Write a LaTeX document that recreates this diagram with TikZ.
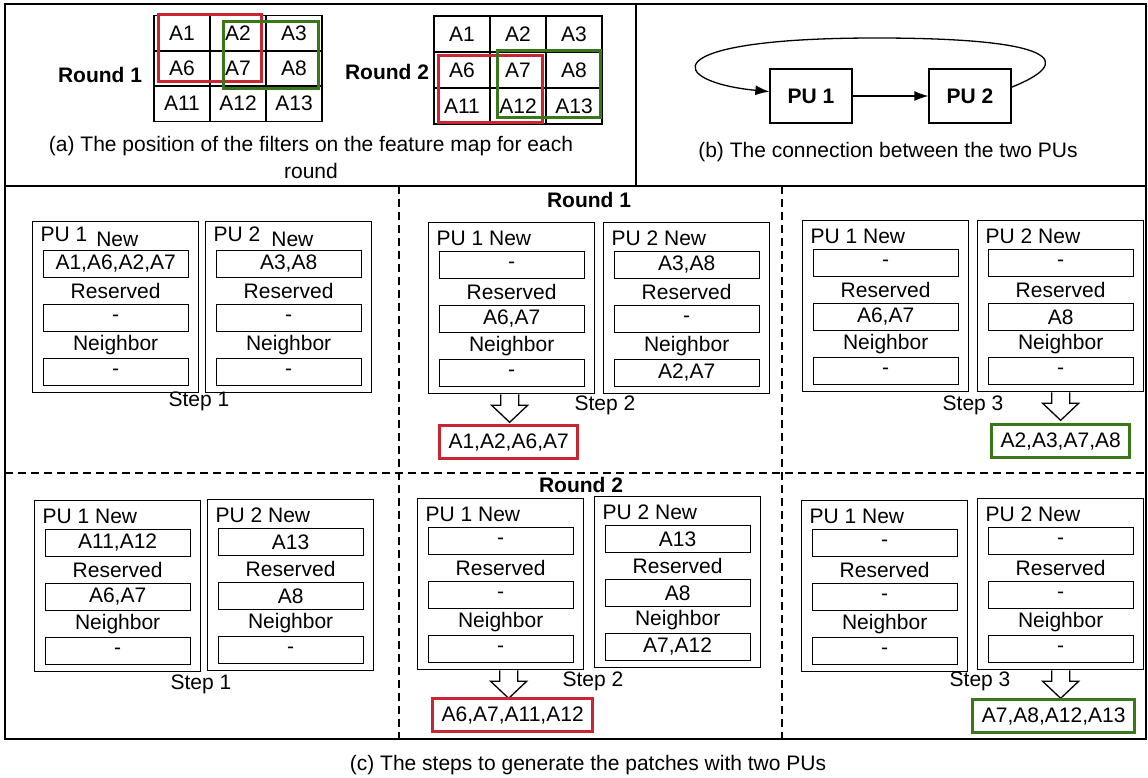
\documentclass[tikz,border=0pt]{standalone}
\usepackage{fontspec}
\setmainfont{Liberation Sans}
\usetikzlibrary{arrows.meta,positioning}

\definecolor{filtred}{RGB}{200,38,48}
\definecolor{filtgreen}{RGB}{58,118,26}

\tikzset{blockarrow/.pic={\draw[fill=white, line join=miter] (-9,0) -- (-9,11) -- (-18,11) -- (0,28) -- (18,11) -- (9,11) -- (9,0);}}

% one processing unit with its three buffers
\newcommand{\pubox}[6]{%
  \node[pu] (#1) at (#2) {};
  \node[tag] at ([xshift=8pt,yshift=-16pt]#1.north west) {#3};
  \node[slot] (#1n) at ([yshift=-43pt]#1.north) {#4};
  \node at ([yshift=-70pt]#1.north) {Reserved};
  \node[slot] (#1r) at ([yshift=-97pt]#1.north) {#5};
  \node at ([yshift=-124pt]#1.north) {Neighbor};
  \node[slot] (#1b) at ([yshift=-151pt]#1.north) {#6};
}

\begin{document}
\begin{tikzpicture}[x=1pt, y=-1pt, >={Latex[length=14pt,width=10pt]}, line width=1.3pt, every node/.style={font=\fontsize{21}{27}\selectfont}]
\tikzstyle{cell}=[draw, minimum width=56pt, minimum height=35.5pt, inner sep=0pt]
\tikzstyle{pu}=[draw, anchor=north west, minimum width=166pt, minimum height=171pt, inner sep=0pt]
\tikzstyle{slot}=[draw, minimum width=145pt, minimum height=27pt, inner sep=0pt]
\tikzstyle{tag}=[anchor=west, inner sep=0pt]
\tikzstyle{result}=[draw, line width=3pt, minimum height=33pt, inner xsep=9pt, inner ysep=0pt]
\tikzstyle{unit}=[draw, minimum width=82pt, minimum height=54pt, font=\fontsize{21}{27}\selectfont\bfseries]
\tikzstyle{sep}=[dash pattern=on 8pt off 5pt]
\useasboundingbox (0,0) rectangle (1148,778);

% frames
\draw[line width=1.5pt] (5,4) rectangle (1146,739);
\draw[line width=1.5pt] (5,186) -- (1146,186);
\draw[line width=1.5pt] (636,4) -- (636,186);
\draw[sep] (399,186) -- (399,739);
\draw[sep] (782,186) -- (782,739);
\draw[sep] (5,473) -- (1146,473);

% (a) filters on the feature map
\foreach \lab [count=\k from 0] in {A1,A2,A3,A6,A7,A8,A11,A12,A13}{
  \pgfmathtruncatemacro\c{mod(\k,3)}
  \pgfmathtruncatemacro\r{div(\k,3)}
  \node[cell] (fa\lab) at (154+56*\c+28, 16+35*\r+17.5) {\lab};
  \node[cell, minimum height=36pt] (fb\lab) at (434+56*\c+28, 16+36*\r+18) {\lab};
}
\node[font=\fontsize{21}{27}\selectfont\bfseries, anchor=east] (rnda) at (146,75) {Round 1};
\node[font=\fontsize{21}{27}\selectfont\bfseries, anchor=east] (rndb) at (433,72) {Round 2};
\draw[filtred, line width=3pt] (158,15) rectangle (261,82);
\draw[filtgreen, line width=3pt] (223,22) rectangle (318,89);
\draw[filtred, line width=3pt] (438,56) rectangle (542,123);
\draw[filtgreen, line width=3pt] (497,51) rectangle (600,118);
\node[align=center] (capa) at (311,157) {(a) The position of the filters on the feature map for each\\round};

% (b) the two PUs
\node[unit] (pu1) at (811,96) {PU 1};
\node[unit] (pu2) at (970,96) {PU 2};
\coordinate (looptop) at (876,38);
\draw[->] (pu1) -- (pu2);
\draw[->] (pu2.12) .. controls (1075,62) and (1060,38) .. (looptop) .. controls (650,38) and (668,82) .. (pu1.174);
\node (capb) at (888,152) {(b) The connection between the two PUs};

% (c) round 1
\node[font=\fontsize{21}{27}\selectfont\bfseries] (heada) at (589,200) {Round 1};
\pubox{aa}{32,221}{PU 1\hspace{9pt}\raisebox{-5pt}{New}}{A1,A6,A2,A7}{-}{-}
\pubox{ab}{205,221}{PU 2\hspace{11pt}\raisebox{-5pt}{New}}{A3,A8}{-}{-}
\node (stepaa) at (199,401) {Step 1};
\pubox{ba}{428,222}{PU 1 New}{-}{A6,A7}{-}
\pubox{bb}{603,222}{PU 2 New}{A3,A8}{-}{A2,A7}
\node (stepab) at (605,405) {Step 2};
\pic at ([xshift=-2pt]ba.south) {blockarrow};
\node[result, draw=filtred, below=30pt of ba.south, xshift=-3pt] (outab) {A1,A2,A6,A7};
\pubox{ca}{802,220}{PU 1 New}{-}{A6,A7}{-}
\pubox{cb}{977,220}{PU 2 New}{-}{A8}{-}
\node (stepac) at (973,405) {Step 3};
\pic at (cb.south) {blockarrow};
\node[result, draw=filtgreen, below=31pt of cb.south] (outac) {A2,A3,A7,A8};

% (c) round 2
\node[font=\fontsize{21}{27}\selectfont\bfseries] (headb) at (581,485) {Round 2};
\pubox{da}{34,500}{PU 1 New}{A11,A12}{A6,A7}{-}
\pubox{db}{207,499}{PU 2 New}{A13}{A8}{-}
\node (stepba) at (201,684) {Step 1};
\pubox{ea}{417,498}{PU 1 New}{-}{-}{-}
\pubox{eb}{594,496}{PU 2 New}{A13}{A8}{A7,A12}
\node (stepbb) at (593,681) {Step 2};
\pic at ([xshift=8pt]ea.south) {blockarrow};
\node[result, draw=filtred, below=27pt of ea.south, xshift=12pt] (outbb) {A6,A7,A11,A12};
\pubox{fa}{801,500}{PU 1 New}{-}{-}{-}
\pubox{fb}{977,498}{PU 2 New}{-}{-}{-}
\node (stepbc) at (980,681) {Step 3};
\pic at (fb.south) {blockarrow};
\node[result, draw=filtgreen, below=28pt of fb.south, xshift=-7pt] (outbc) {A7,A8,A12,A13};

\node (capc) at (588,765) {(c) The steps to generate the patches with two PUs};
\end{tikzpicture}
\end{document}
